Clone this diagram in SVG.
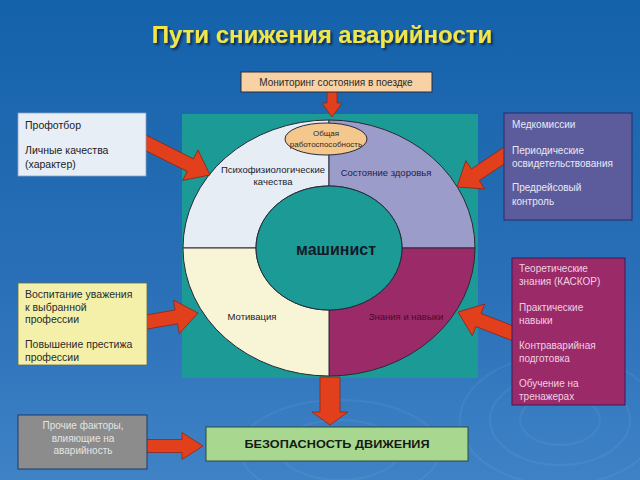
<svg xmlns="http://www.w3.org/2000/svg" width="640" height="480" viewBox="0 0 640 480">
<defs>
<linearGradient id="bg" x1="0" y1="0" x2="0" y2="1">
<stop offset="0" stop-color="#1462aa"/>
<stop offset="0.6" stop-color="#2a70b8"/>
<stop offset="1" stop-color="#3f82c6"/>
</linearGradient>
<filter id="shadow" x="-5%" y="-20%" width="110%" height="150%">
<feDropShadow dx="2" dy="2" stdDeviation="0.8" flood-color="#0a2040" flood-opacity="0.85"/>
</filter>
<style>
.t{font-family:"Liberation Sans",Arial,sans-serif;}
.arr{fill:#e2401c;stroke:#8a2a18;stroke-width:0.8;}
.ring{stroke:#2a2a3a;stroke-width:1;}
.sw{fill:none;stroke:#ffffff;stroke-opacity:0.06;stroke-width:2;}
</style>
</defs>
<rect x="0" y="0" width="640" height="480" fill="url(#bg)"/>
<g id="decor">
<ellipse class="sw" cx="560" cy="420" rx="40" ry="25"/>
<ellipse class="sw" cx="560" cy="420" rx="70" ry="45"/>
<ellipse class="sw" cx="560" cy="420" rx="100" ry="65"/>
<ellipse class="sw" cx="340" cy="450" rx="60" ry="30"/>
<ellipse class="sw" cx="340" cy="450" rx="100" ry="50"/>
</g>
<g id="title">
<text class="t" x="322" y="43" font-size="24" font-weight="bold" fill="#f0e64a" text-anchor="middle" filter="url(#shadow)">Пути снижения аварийности</text>
</g>
<g id="driver-circle">
<rect x="182" y="114" width="296" height="264" fill="#1b9a96"/>
<path class="ring" fill="#e6edf5" d="M183,248 A146,128 0 0 1 329,120 L329,186 A73,62 0 0 0 256,248 Z"/>
<path class="ring" fill="#9c9cca" d="M329,120 A146,128 0 0 1 475,248 L402,248 A73,62 0 0 0 329,186 Z"/>
<path class="ring" fill="#9a2a68" d="M475,248 A146,128 0 0 1 329,376 L329,310 A73,62 0 0 0 402,248 Z"/>
<path class="ring" fill="#f8f4d6" d="M329,376 A146,128 0 0 1 183,248 L256,248 A73,62 0 0 0 329,310 Z"/>
<ellipse class="ring" cx="329" cy="248" rx="73" ry="62" fill="#1b9a96"/>
<text class="t" x="336" y="255" font-size="16" font-weight="bold" fill="#141a28" text-anchor="middle">машинист</text>
<text class="t" x="273" y="173" font-size="9.5" fill="#1a1a2a" text-anchor="middle">Психофизиологические</text>
<text class="t" x="273" y="185" font-size="9.5" fill="#1a1a2a" text-anchor="middle">качества</text>
<text class="t" x="386" y="176" font-size="9.5" fill="#20204a" text-anchor="middle">Состояние здоровья</text>
<text class="t" x="252" y="320" font-size="9.5" fill="#1a1a1a" text-anchor="middle">Мотивация</text>
<text class="t" x="406" y="320" font-size="9.5" fill="#4a0a2a" text-anchor="middle">Знания и навыки</text>
</g>
<g id="work-capacity">
<ellipse cx="326" cy="139" rx="41" ry="16" fill="#f4c88c" stroke="#2a2a3a" stroke-width="1"/>
<text class="t" x="326" y="136" font-size="8" fill="#2a2a2a" text-anchor="middle">Общая</text>
<text class="t" x="326" y="147" font-size="8" fill="#2a2a2a" text-anchor="middle">работоспособность</text>
</g>
<g id="connectors">
<path class="arr" transform="translate(332,117) rotate(90)" d="M0,0 L-14,-10 L-14,-5 L-28,-5 L-28,5 L-14,5 L-14,10 Z"/>
<path class="arr" transform="translate(210,175) rotate(26.6)" d="M0,0 L-22,-17 L-22,-7 L-75,-7 L-75,7 L-22,7 L-22,17 Z"/>
<path class="arr" transform="translate(457,187) rotate(146.3)" d="M0,0 L-22,-17 L-22,-7 L-62,-7 L-62,7 L-22,7 L-22,17 Z"/>
<path class="arr" transform="translate(198,313) rotate(-10)" d="M0,0 L-22,-17 L-22,-7 L-56,-7 L-56,7 L-22,7 L-22,17 Z"/>
<path class="arr" transform="translate(458,312) rotate(201.3)" d="M0,0 L-22,-17 L-22,-7 L-62,-7 L-62,7 L-22,7 L-22,17 Z"/>
<path class="arr" transform="translate(330,425) rotate(90)" d="M0,0 L-13,-18 L-13,-10 L-48,-10 L-48,10 L-13,10 L-13,18 Z"/>
<path class="arr" transform="translate(203,446) rotate(0)" d="M0,0 L-21,-13.5 L-21,-6.5 L-58,-6.5 L-58,6.5 L-21,6.5 L-21,13.5 Z"/>
</g>
<g id="monitoring">
<rect x="241" y="72" width="191" height="20" fill="#f8d2a4" stroke="#2a2a3a" stroke-width="1"/>
<text class="t" x="336" y="86" font-size="10" fill="#2a2a2a" text-anchor="middle">Мониторинг состояния в поездке</text>
</g>
<g id="box-selection">
<rect x="18" y="113" width="128" height="63" fill="#e8eef6" stroke="#8aa0c0" stroke-width="0.8"/>
<text class="t" x="25" y="129" font-size="10.5" fill="#222">Профотбор</text>
<text class="t" x="25" y="154" font-size="10.5" fill="#222">Личные качества</text>
<text class="t" x="25" y="168" font-size="10.5" fill="#222">(характер)</text>
</g>
<g id="box-medical">
<rect x="504" y="113" width="128" height="107" fill="#5c5c9c" stroke="#2a2a6a" stroke-width="1"/>
<text class="t" x="512" y="128" font-size="10" fill="#e8e8f6">Медкомиссии</text>
<text class="t" x="512" y="154" font-size="10" fill="#e8e8f6">Периодические</text>
<text class="t" x="512" y="167" font-size="10" fill="#e8e8f6">освидетельствования</text>
<text class="t" x="512" y="191" font-size="10" fill="#e8e8f6">Предрейсовый</text>
<text class="t" x="512" y="205" font-size="10" fill="#e8e8f6">контроль</text>
</g>
<g id="box-motivation">
<rect x="18" y="283" width="129" height="82" fill="#f4f0aa" stroke="#6a6a40" stroke-width="0.8"/>
<text class="t" x="25" y="298" font-size="10.5" fill="#2a2a2a">Воспитание уважения</text>
<text class="t" x="25" y="311" font-size="10.5" fill="#2a2a2a">к выбранной</text>
<text class="t" x="25" y="323" font-size="10.5" fill="#2a2a2a">профессии</text>
<text class="t" x="25" y="348" font-size="10.5" fill="#2a2a2a">Повышение престижа</text>
<text class="t" x="25" y="361" font-size="10.5" fill="#2a2a2a">профессии</text>
</g>
<g id="box-knowledge">
<rect x="512" y="258" width="113" height="147" fill="#9a2a68" stroke="#3a1a5a" stroke-width="1"/>
<text class="t" x="519" y="272" font-size="10" fill="#f2d0e2">Теоретические</text>
<text class="t" x="519" y="285" font-size="10" fill="#f2d0e2">знания (КАСКОР)</text>
<text class="t" x="519" y="311" font-size="10" fill="#f2d0e2">Практические</text>
<text class="t" x="519" y="324" font-size="10" fill="#f2d0e2">навыки</text>
<text class="t" x="519" y="349" font-size="10" fill="#f2d0e2">Контраварийная</text>
<text class="t" x="519" y="362" font-size="10" fill="#f2d0e2">подготовка</text>
<text class="t" x="519" y="387" font-size="10" fill="#f2d0e2">Обучение на</text>
<text class="t" x="519" y="400" font-size="10" fill="#f2d0e2">тренажерах</text>
</g>
<g id="box-other">
<rect x="18" y="415" width="129" height="54" fill="#8c8c8c" stroke="#1a3a6a" stroke-width="1"/>
<text class="t" x="83" y="429" font-size="10" fill="#e4e4e4" text-anchor="middle">Прочие факторы,</text>
<text class="t" x="83" y="442" font-size="10" fill="#e4e4e4" text-anchor="middle">влияющие на</text>
<text class="t" x="83" y="454" font-size="10" fill="#e4e4e4" text-anchor="middle">аварийность</text>
</g>
<g id="box-safety">
<rect x="206" y="427" width="262" height="34" fill="#a8d890" stroke="#2a4a3a" stroke-width="1"/>
<text class="t" x="337" y="448" font-size="11" font-weight="bold" fill="#141a14" text-anchor="middle" textLength="185" lengthAdjust="spacingAndGlyphs">БЕЗОПАСНОСТЬ  ДВИЖЕНИЯ</text>
</g>
</svg>
